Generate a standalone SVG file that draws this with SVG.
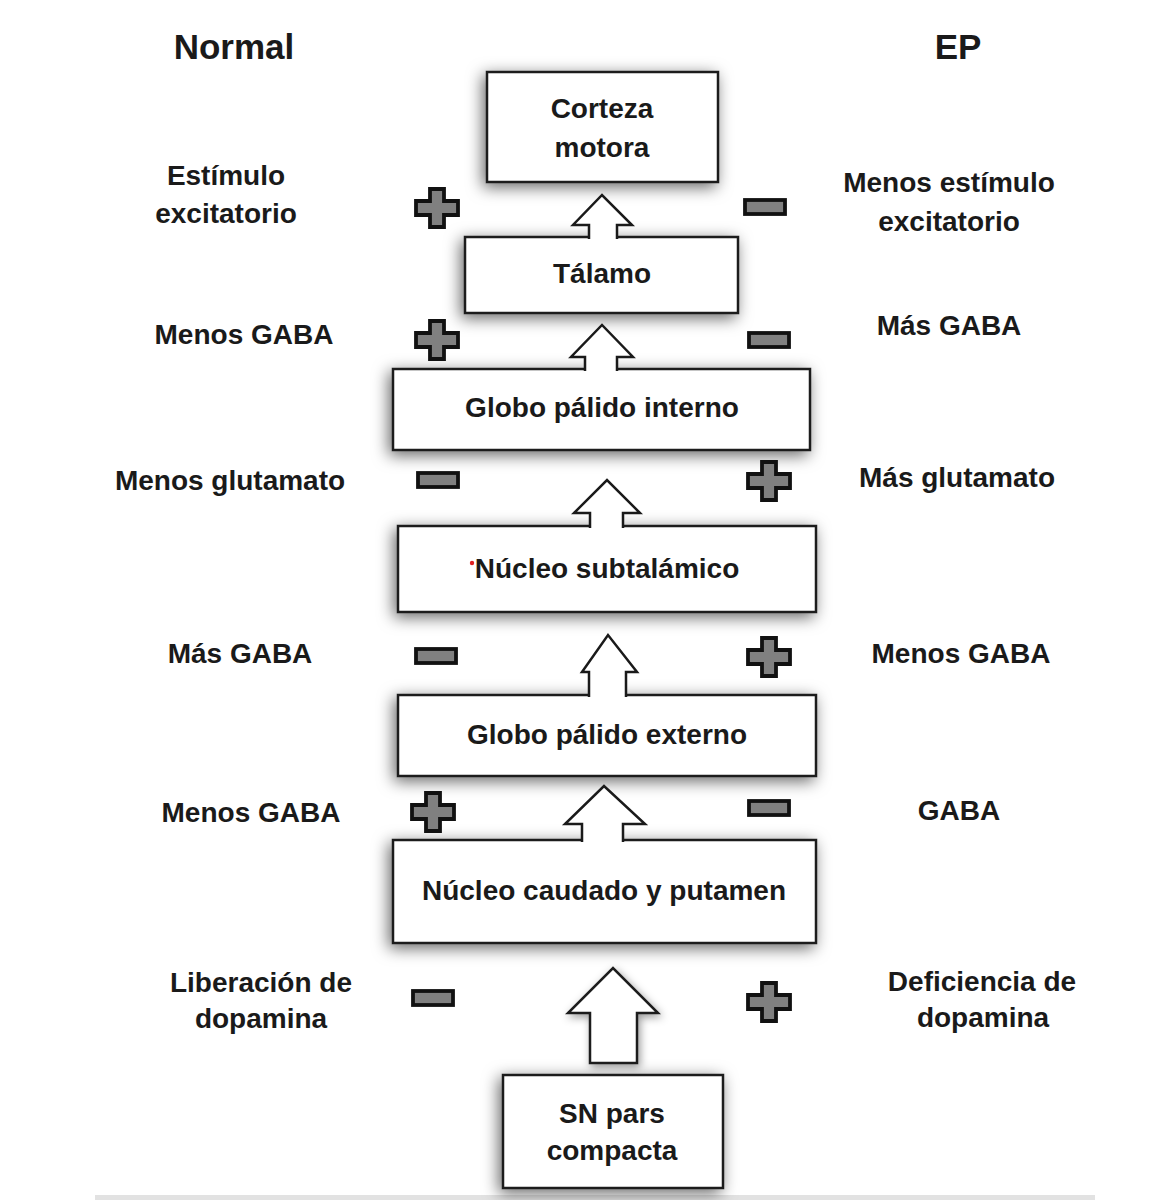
<svg xmlns="http://www.w3.org/2000/svg" width="1169" height="1200" viewBox="0 0 1169 1200">
  <defs>
    <filter id="shadow" x="-20%" y="-40%" width="140%" height="180%">
      <feDropShadow dx="-3" dy="4" stdDeviation="8" flood-color="#000" flood-opacity="0.6"/>
    </filter>
    <filter id="ashadow" x="-40%" y="-40%" width="180%" height="180%">
      <feDropShadow dx="2" dy="3" stdDeviation="4" flood-color="#000" flood-opacity="0.4"/>
    </filter>
    <symbol id="plus" viewBox="-23 -21 46 42" overflow="visible">
      <path d="M-7,-19 H7 V-7 H21 V7 H7 V19 H-7 V7 H-21 V-7 H-7 Z" fill="#808080" stroke="#111" stroke-width="3.8" stroke-linejoin="miter"/>
    </symbol>
    <symbol id="minus" viewBox="-23 -10 46 20" overflow="visible">
      <rect x="-20" y="-7" width="40" height="14" fill="#808080" stroke="#111" stroke-width="3.8"/>
    </symbol>
  </defs>
  <style>
    .box { fill: #ffffff; stroke: #1a1a1a; stroke-width: 2.5; }
    .arrow { fill: #ffffff; stroke: #1a1a1a; stroke-width: 2.5; stroke-linejoin: miter; }
    .lbl { font-family: "Liberation Sans", Arial, sans-serif; font-weight: bold; font-size: 28px; fill: #1a1a1a; text-anchor: middle; }
    .hdr { font-family: "Liberation Sans", Arial, sans-serif; font-weight: bold; font-size: 35px; fill: #1a1a1a; text-anchor: middle; }
  </style>
  <rect x="0" y="0" width="1169" height="1200" fill="#ffffff"/>
  <rect x="95" y="1195" width="1000" height="5" fill="#e2e2e2"/>

  <!-- Headers -->
  <g id="headers">
    <text class="hdr" x="234" y="59">Normal</text>
    <text class="hdr" x="958" y="59">EP</text>
  </g>

  <!-- Nodes -->
  <g id="corteza-motora">
    <rect class="box" x="487" y="72" width="231" height="110" filter="url(#shadow)"/>
    <text class="lbl" x="602" y="118">Corteza</text>
    <text class="lbl" x="602" y="157">motora</text>
  </g>
  <g id="talamo">
    <rect class="box" x="465" y="237" width="273" height="76" filter="url(#shadow)"/>
    <text class="lbl" x="602" y="283">Tálamo</text>
  </g>
  <g id="globo-palido-interno">
    <rect class="box" x="393" y="369" width="417" height="81" filter="url(#shadow)"/>
    <text class="lbl" x="602" y="417">Globo pálido interno</text>
  </g>
  <g id="nucleo-subtalamico">
    <rect class="box" x="398" y="526" width="418" height="86" filter="url(#shadow)"/>
    <circle cx="472" cy="563" r="2.2" fill="#e02020"/>
    <text class="lbl" x="607" y="578">Núcleo subtalámico</text>
  </g>
  <g id="globo-palido-externo">
    <rect class="box" x="398" y="695" width="418" height="81" filter="url(#shadow)"/>
    <text class="lbl" x="607" y="744">Globo pálido externo</text>
  </g>
  <g id="nucleo-caudado-putamen">
    <rect class="box" x="393" y="840" width="423" height="103" filter="url(#shadow)"/>
    <text class="lbl" x="604" y="900">Núcleo caudado y putamen</text>
  </g>
  <g id="sn-pars-compacta">
    <rect class="box" x="503" y="1075" width="220" height="113" filter="url(#shadow)"/>
    <text class="lbl" x="612" y="1123">SN pars</text>
    <text class="lbl" x="612" y="1160">compacta</text>
  </g>

  <!-- Connectors (block arrows) -->
  <g id="connectors">
    <path class="arrow" d="M589,239 V225 H573 L602,195 L632,225 H617 V239"/>
    <path class="arrow" d="M585,371 V357 H571 L602,325 L633,357 H617 V371"/>
    <path class="arrow" d="M590,528 V513 H574 L607,480 L640,513 H623 V528"/>
    <path class="arrow" d="M589,697 V672 H582 L608,635 L637,672 H626 V697"/>
    <path class="arrow" d="M582,842 V824 H565 L604,786 L645,824 H623 V842"/>
    <path class="arrow" d="M590,1063 V1013 H568 L613,968 L658,1013 H637 V1063 Z" filter="url(#ashadow)"/>
  </g>

  <!-- Signs -->
  <g id="signs">
    <use href="#plus" x="414" y="187" width="46" height="42"/>
    <use href="#minus" x="742" y="197" width="46" height="20"/>

    <use href="#plus" x="414" y="319" width="46" height="42"/>
    <use href="#minus" x="746" y="330" width="46" height="20"/>

    <use href="#minus" x="415" y="470" width="46" height="20"/>
    <use href="#plus" x="746" y="460" width="46" height="42"/>

    <use href="#minus" x="413" y="646" width="46" height="20"/>
    <use href="#plus" x="746" y="636" width="46" height="42"/>

    <use href="#plus" x="410" y="791" width="46" height="42"/>
    <use href="#minus" x="746" y="798" width="46" height="20"/>

    <use href="#minus" x="410" y="988" width="46" height="20"/>
    <use href="#plus" x="746" y="981" width="46" height="42"/>
  </g>

  <!-- Left (Normal) labels -->
  <g id="normal-labels">
    <text class="lbl" x="226" y="185">Estímulo</text>
    <text class="lbl" x="226" y="223">excitatorio</text>
    <text class="lbl" x="244" y="344">Menos GABA</text>
    <text class="lbl" x="230" y="490">Menos glutamato</text>
    <text class="lbl" x="240" y="663">Más GABA</text>
    <text class="lbl" x="251" y="822">Menos GABA</text>
    <text class="lbl" x="261" y="992">Liberación de</text>
    <text class="lbl" x="261" y="1028">dopamina</text>
  </g>

  <!-- Right (EP) labels -->
  <g id="ep-labels">
    <text class="lbl" x="949" y="192">Menos estímulo</text>
    <text class="lbl" x="949" y="231">excitatorio</text>
    <text class="lbl" x="949" y="335">Más GABA</text>
    <text class="lbl" x="957" y="487">Más glutamato</text>
    <text class="lbl" x="961" y="663">Menos GABA</text>
    <text class="lbl" x="959" y="820">GABA</text>
    <text class="lbl" x="982" y="991">Deficiencia de</text>
    <text class="lbl" x="983" y="1027">dopamina</text>
  </g>
</svg>
